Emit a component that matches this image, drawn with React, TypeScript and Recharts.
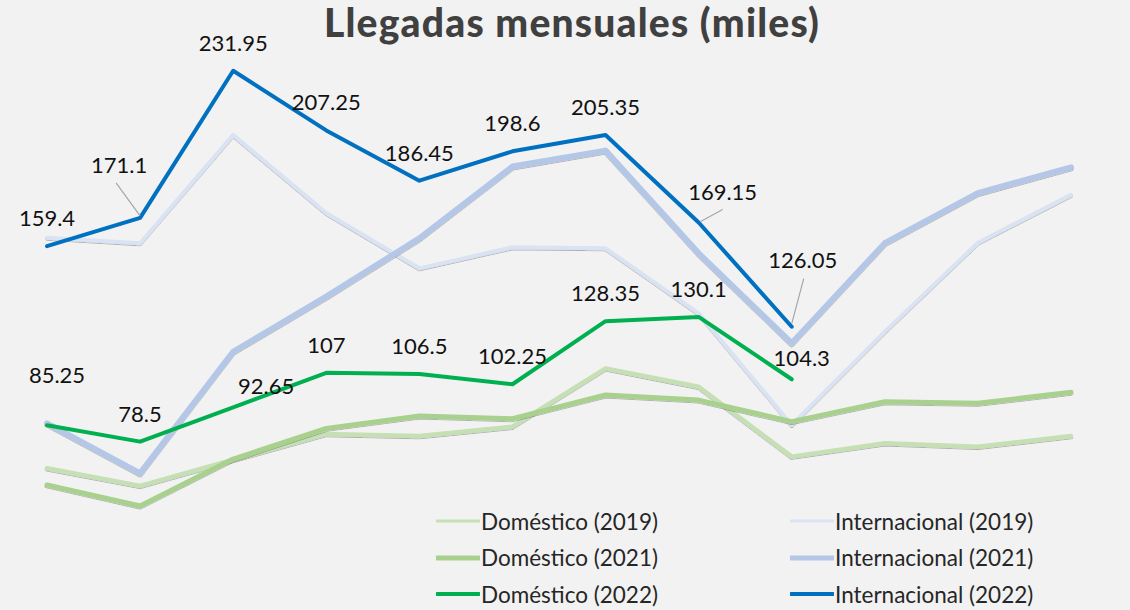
import { LineChart, Line, XAxis, YAxis, LabelList, Legend } from "recharts";

const months = ["Ene", "Feb", "Mar", "Abr", "May", "Jun", "Jul", "Ago", "Sep", "Oct", "Nov", "Dic"];

const dom2019 = [67.5, 60.2, 71.0, 81.7, 80.8, 84.7, 108.8, 101.2, 72.3, 77.8, 76.4, 80.8];
const dom2021 = [60.6, 51.9, 71.3, 84.0, 89.1, 88.0, 97.8, 95.7, 86.8, 95.0, 94.4, 98.9];
const dom2022 = [85.25, 78.5, 92.65, 107, 106.5, 102.25, 128.35, 130.1, 104.3];
const int2019 = [162.9, 160.6, 205.4, 173.1, 150.2, 158.9, 158.5, 131.6, 85.4, 124.0, 160.8, 180.6];
const int2021 = [86.1, 65.4, 115.7, 138.5, 162.6, 192.3, 198.9, 156.4, 119.2, 160.6, 181.3, 192.0];
const int2022 = [159.4, 171.1, 231.95, 207.25, 186.45, 198.6, 205.35, 169.15, 126.05];

const data = months.map((month, i) => ({
  month,
  dom2019: dom2019[i],
  dom2021: dom2021[i],
  dom2022: dom2022[i] ?? null,
  int2019: int2019[i],
  int2021: int2021[i],
  int2022: int2022[i] ?? null,
}));

// drawing order = z-order
const series = [
  { key: "int2019", name: "Internacional (2019)", color: "#dae3f3", width: 4, legendWidth: 3, shadow: true, col: 1, row: 0 },
  { key: "dom2019", name: "Doméstico (2019)", color: "#c5e0b4", width: 4.5, legendWidth: 3, shadow: true, col: 0, row: 0 },
  { key: "dom2021", name: "Doméstico (2021)", color: "#a9d18e", width: 5, legendWidth: 5, shadow: true, col: 0, row: 1 },
  { key: "int2021", name: "Internacional (2021)", color: "#b4c7e7", width: 6, legendWidth: 5, shadow: true, col: 1, row: 1 },
  { key: "dom2022", name: "Doméstico (2022)", color: "#00b050", width: 4, legendWidth: 4, shadow: false, col: 0, row: 2 },
  { key: "int2022", name: "Internacional (2022)", color: "#0070c0", width: 4, legendWidth: 4, shadow: false, col: 1, row: 2 },
];

const FONT = "Lato, 'Open Sans', sans-serif";

type LabelPlace = { dx: number; dy: number; leader?: [number, number, number, number] };

// label placement per point index (relative to the point); default sits above
const intPlaces: Record<number, LabelPlace> = {
  1: { dx: -21, dy: -53, leader: [-24, -35, 0, -2] },
  7: { dx: 24, dy: -31, leader: [24, -13, 2, -1] },
  8: { dx: 11, dy: -67, leader: [12, -48, 0, -3] },
};
const domPlaces: Record<number, LabelPlace> = {
  0: { dx: 10, dy: -50 },
  2: { dx: 33, dy: -21 },
  8: { dx: 10, dy: -21 },
};

const makeLabel = (places: Record<number, LabelPlace>) => (props: any) => {
  const { value, index } = props;
  const x = props.x ?? props.viewBox?.x;
  const y = props.y ?? props.viewBox?.y;
  if (value == null || x == null || y == null) return null;
  const p = places[index] ?? { dx: 0, dy: -28 };
  return (
    <g>
      {p.leader && (
        <line
          x1={x + p.leader[0]}
          y1={y + p.leader[1]}
          x2={x + p.leader[2]}
          y2={y + p.leader[3]}
          stroke="#a6a6a6"
          strokeWidth={1.2}
        />
      )}
      <text
        x={x + p.dx}
        y={y + p.dy + 8}
        textAnchor="middle"
        fontFamily={FONT}
        fontSize={22}
        fill="#111"
      >
        {String(value)}
      </text>
    </g>
  );
};

const renderLegend = (props: any) => {
  const payload = props.payload ?? [];
  return (
    <div style={{ position: "relative", width: 700, height: 110 }}>
      {payload.map((item: any) => {
        const s = series.find((d) => d.key === item.dataKey);
        if (!s) return null;
        return (
          <div
            key={s.key}
            style={{
              position: "absolute",
              left: s.col * 354,
              top: s.row * 36.5,
              height: 30,
              display: "flex",
              alignItems: "center",
              fontFamily: FONT,
              fontSize: 22.5,
              color: "#262626",
              whiteSpace: "nowrap",
            }}
          >
            <svg width={44} height={10} style={{ marginRight: 1 }}>
              <line
                x1={1}
                y1={5}
                x2={43}
                y2={5}
                stroke={s.color}
                strokeWidth={s.legendWidth}
                strokeLinecap="round"
              />
            </svg>
            {s.name}
          </div>
        );
      })}
    </div>
  );
};

export default function App() {
  return (
    <div
      style={{
        position: "absolute",
        left: 0,
        top: 0,
        width: 1130,
        height: 610,
        background: "#f2f2f2",
        overflow: "hidden",
      }}
    >
      <div
        style={{
          position: "absolute",
          left: 272,
          top: -1,
          width: 600,
          textAlign: "center",
          fontFamily: FONT,
          fontWeight: 900,
          fontSize: 39,
          letterSpacing: 1.2,
          color: "#404040",
        }}
      >
        Llegadas mensuales (miles)
      </div>
      <LineChart
        width={1130}
        height={640}
        data={data}
        margin={{ top: 27.1, right: 59, bottom: 8.6, left: 47 }}
        style={{ position: "absolute", left: 0, top: 0 }}
      >
        <defs>
          <filter id="softShadow" x="-5%" y="-5%" width="110%" height="120%">
            <feDropShadow dx={0} dy={1} stdDeviation={0.6} floodColor="#000" floodOpacity={0.28} />
          </filter>
        </defs>
        <XAxis dataKey="month" hide />
        <YAxis hide domain={[0, 250]} />
        <Legend
          layout="horizontal"
          verticalAlign="middle"
          align="center"
          content={renderLegend}
          wrapperStyle={{ left: 436, top: 506, width: 700, height: 110 }}
        />
        {series.map((s) => (
          <Line
            key={s.key}
            type="linear"
            dataKey={s.key}
            name={s.name}
            stroke={s.color}
            strokeWidth={s.width}
            strokeLinejoin="round"
            strokeLinecap="round"
            dot={false}
            activeDot={false}
            filter={s.shadow ? "url(#softShadow)" : undefined}
            isAnimationActive={false}
          >
            {s.key === "int2022" && <LabelList dataKey="int2022" content={makeLabel(intPlaces)} />}
            {s.key === "dom2022" && <LabelList dataKey="dom2022" content={makeLabel(domPlaces)} />}
          </Line>
        ))}
      </LineChart>
    </div>
  );
}
